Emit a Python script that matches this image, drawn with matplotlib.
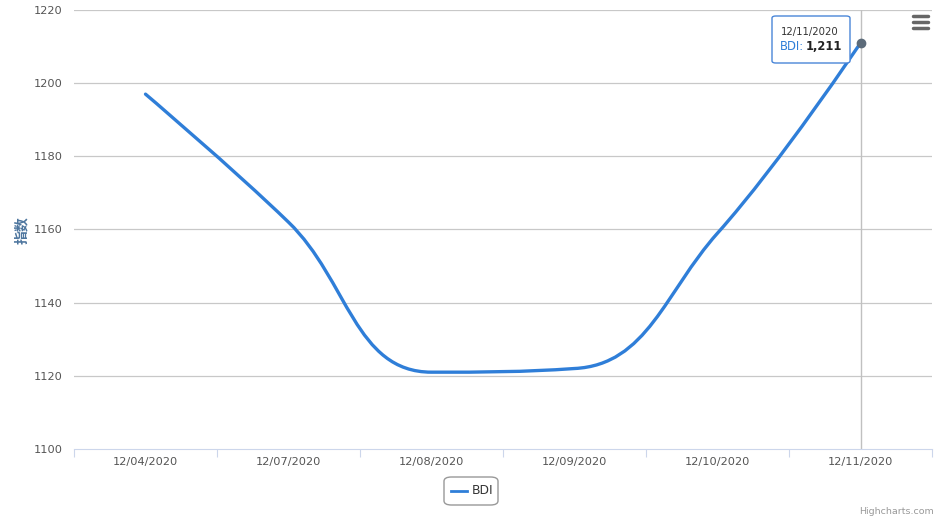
import numpy as np
import matplotlib
matplotlib.use('Agg')
import matplotlib.pyplot as plt
from matplotlib.path import Path
from matplotlib.patches import PathPatch, FancyBboxPatch

plt.rcParams['font.family'] = ['DejaVu Sans', 'Noto Sans CJK SC']

#####################################################################
# data
#####################################################################
dates = ['12/04/2020', '12/07/2020', '12/08/2020', '12/09/2020', '12/10/2020', '12/11/2020']
bdi = [1197, 1162, 1121, 1122, 1159, 1211]

W, H = 940, 519
L, R, T, B = 74, 932, 10, 449
ymin, ymax = 1100, 1220

fig = plt.figure(figsize=(W / 100, H / 100), dpi=100)
ax = fig.add_axes([L / W, (H - B) / H, (R - L) / W, (B - T) / H])
ax.set_xlim(-0.5, len(dates) - 0.5)
ax.set_ylim(ymin, ymax)

#####################################################################
# highcharts-like spline (computed in pixel space)
#####################################################################
sx = (R - L) / len(dates)
sy = (B - T) / (ymax - ymin)
px = np.arange(len(dates)) * sx
py = -np.array(bdi, dtype=float) * sy

sm = 1.5
den = sm + 1
lc = [None] * len(px)
rc = [None] * len(px)
for i in range(1, len(px) - 1):
    x, y = px[i], py[i]
    lx, ly = (sm * x + px[i - 1]) / den, (sm * y + py[i - 1]) / den
    rx, ry = (sm * x + px[i + 1]) / den, (sm * y + py[i + 1]) / den
    dl = np.hypot(lx - x, ly - y)
    dr = np.hypot(rx - x, ry - y)
    la = np.arctan2(ly - y, lx - x)
    ra = np.arctan2(ry - y, rx - x)
    ja = np.pi / 2 + (la + ra) / 2
    if abs(la - ja) > np.pi / 2:
        ja -= np.pi
    lx, ly = x + np.cos(ja) * dl, y + np.sin(ja) * dl
    rx, ry = x + np.cos(np.pi + ja) * dr, y + np.sin(np.pi + ja) * dr
    if ly > max(py[i - 1], y) or ly < min(py[i - 1], y):
        ly = max(py[i - 1], y) if ly > max(py[i - 1], y) else min(py[i - 1], y)
        ry = 2 * y - ly
    if ry > max(py[i + 1], y) or ry < min(py[i + 1], y):
        ry = max(py[i + 1], y) if ry > max(py[i + 1], y) else min(py[i + 1], y)
        ly = 2 * y - ry
    lc[i] = (lx, ly)
    rc[i] = (rx, ry)

def to_data(p):
    return (p[0] / sx, -p[1] / sy)

verts = [to_data((px[0], py[0]))]
codes = [Path.MOVETO]
for i in range(1, len(px)):
    c1 = rc[i - 1] if rc[i - 1] is not None else (px[i - 1], py[i - 1])
    c2 = lc[i] if lc[i] is not None else (px[i], py[i])
    verts += [to_data(c1), to_data(c2), to_data((px[i], py[i]))]
    codes += [Path.CURVE4] * 3

#####################################################################
# plot
#####################################################################
for v in range(1120, 1221, 20):
    ax.axhline(v, color='#c8c8c8', lw=0.9, zorder=1)
ax.axvline(len(dates) - 1, color='#c0c0c0', lw=1, zorder=1)

line_col = '#2f7ed8'
ax.add_patch(PathPatch(Path(verts, codes), fill=False, edgecolor=line_col, lw=2.4,
                       capstyle='round', joinstyle='round', zorder=3))
ax.plot([len(dates) - 1], [bdi[-1]], 'o', ms=6, color='#5c6b7a', zorder=4)

for s in ['top', 'right', 'left']:
    ax.spines[s].set_visible(False)
ax.spines['bottom'].set_color('#ccd6eb')
ax.set_xticks(np.arange(-0.5, len(dates), 1))
ax.set_xticklabels([])
ax.set_xticks(np.arange(len(dates)), minor=True)
ax.set_xticklabels(dates, minor=True, fontsize=8.2, color='#555555')
ax.tick_params(axis='x', which='major', length=6, color='#ccd6eb')
ax.tick_params(axis='x', which='minor', length=0, pad=6)
ax.set_yticks(range(1100, 1221, 20))
ax.set_yticklabels([str(v) for v in range(1100, 1221, 20)], fontsize=8.2, color='#555555')
ax.tick_params(axis='y', length=0, pad=8)
fig.text(22 / W, 1 - 230 / H, '指数', rotation=90, ha='center', va='center',
         fontsize=10, weight='bold', color='#4d759e', family=['Noto Sans CJK SC', 'DejaVu Sans'])

# tooltip
tip = FancyBboxPatch((772 / W, 1 - 63 / H), 78 / W, 47 / H, transform=fig.transFigure,
                     boxstyle='round,pad=0,rounding_size=0.004', facecolor='white',
                     edgecolor='#4a86d8', lw=1, zorder=5)
fig.patches.append(tip)
fig.text(810 / W, 1 - 32 / H, dates[-1], ha='center', va='center', fontsize=7.3,
         color='#333333', zorder=6)
fig.text(780 / W, 1 - 47 / H, 'BDI:', ha='left', va='center', fontsize=8.3,
         color=line_col, zorder=6)
fig.text(806 / W, 1 - 47 / H, f'{bdi[-1]:,}', ha='left', va='center', fontsize=8.3,
         color='#222222', weight='bold', zorder=6)

# menu icon
for yy in (16, 22, 28):
    fig.add_artist(plt.Line2D([913 / W, 928 / W], [1 - yy / H] * 2, color='#666666',
                              lw=2.5, solid_capstyle='round'))

# legend
leg = FancyBboxPatch((444 / W, 1 - 505 / H), 54 / W, 28 / H, transform=fig.transFigure,
                     boxstyle='round,pad=0,rounding_size=0.008', facecolor='white',
                     edgecolor='#999999', lw=1)
fig.patches.append(leg)
fig.add_artist(plt.Line2D([451 / W, 467 / W], [1 - 491 / H] * 2, color=line_col, lw=2))
fig.text(472 / W, 1 - 491 / H, 'BDI', ha='left', va='center', fontsize=8.8, color='#333333')

fig.text(934 / W, 1 - 511 / H, 'Highcharts.com', ha='right', va='center', fontsize=6.8, color='#999999')

plt.savefig('out.png', dpi=100)
